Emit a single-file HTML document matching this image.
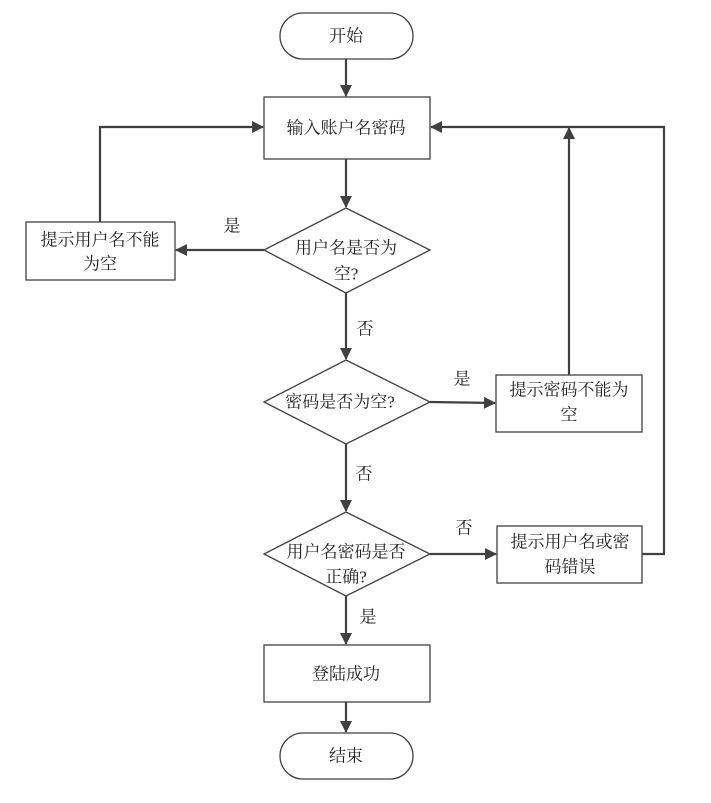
<!DOCTYPE html>
<html><head><meta charset="utf-8"><style>
body{margin:0;background:#fff}
svg text{font-family:"Liberation Serif","Noto Serif CJK SC",serif;font-size:17px;fill:#222;text-anchor:middle;dominant-baseline:central}
</style></head><body>
<svg width="711" height="798" viewBox="0 0 711 798" xmlns="http://www.w3.org/2000/svg">
<defs><marker id="a" markerWidth="12" markerHeight="12" refX="11" refY="6" orient="auto" markerUnits="userSpaceOnUse"><path d="M0,0 L12,6 L0,12 z" fill="#404040"/></marker></defs>
<g fill="none" stroke="#404040" stroke-width="1.3">
<rect x="280" y="13" width="133" height="46" rx="23"/>
<rect x="264" y="97" width="166" height="62"/>
<polygon points="346,208 430,250 346,293 264,250"/>
<rect x="26" y="222" width="149" height="58"/>
<polygon points="346,360 430,402 346,444 264,402"/>
<rect x="496" y="375" width="146" height="57"/>
<polygon points="346,512 430,554 346,596 264,554"/>
<rect x="497" y="526" width="145" height="57"/>
<rect x="264" y="645" width="166" height="57"/>
<rect x="280" y="733" width="133" height="46" rx="23"/>
</g>
<g fill="none" stroke="#404040" stroke-width="2.2" marker-end="url(#a)">
<line x1="346" y1="59" x2="346" y2="96"/>
<line x1="346" y1="159" x2="346" y2="207"/>
<line x1="264" y1="250" x2="176" y2="250"/>
<polyline points="100,222 100,127 263,127"/>
<line x1="346" y1="293" x2="346" y2="359"/>
<line x1="430" y1="402" x2="495" y2="403"/>
<line x1="569" y1="375" x2="569" y2="128"/>
<line x1="346" y1="444" x2="346" y2="511"/>
<line x1="430" y1="554" x2="496" y2="554"/>
<polyline points="642,554 664,554 664,127 431,127"/>
<line x1="346" y1="596" x2="346" y2="644"/>
<line x1="346" y1="702" x2="346" y2="732"/>
</g>
<text x="346" y="36">开始</text>
<text x="346" y="128">输入账户名密码</text>
<text x="346" y="248">用户名是否为</text>
<text x="346" y="274">空?</text>
<text x="100" y="240">提示用户名不能</text>
<text x="100" y="264">为空</text>
<text x="232" y="226">是</text>
<text x="365" y="329">否</text>
<text x="340" y="402">密码是否为空?</text>
<text x="462" y="379">是</text>
<text x="569" y="390">提示密码不能为</text>
<text x="569" y="415">空</text>
<text x="364" y="474">否</text>
<text x="346" y="552">用户名密码是否</text>
<text x="346" y="577">正确?</text>
<text x="464" y="528">否</text>
<text x="570" y="542">提示用户名或密</text>
<text x="570" y="567">码错误</text>
<text x="368" y="617">是</text>
<text x="346" y="674">登陆成功</text>
<text x="346" y="756">结束</text>
</svg>
</body></html>
